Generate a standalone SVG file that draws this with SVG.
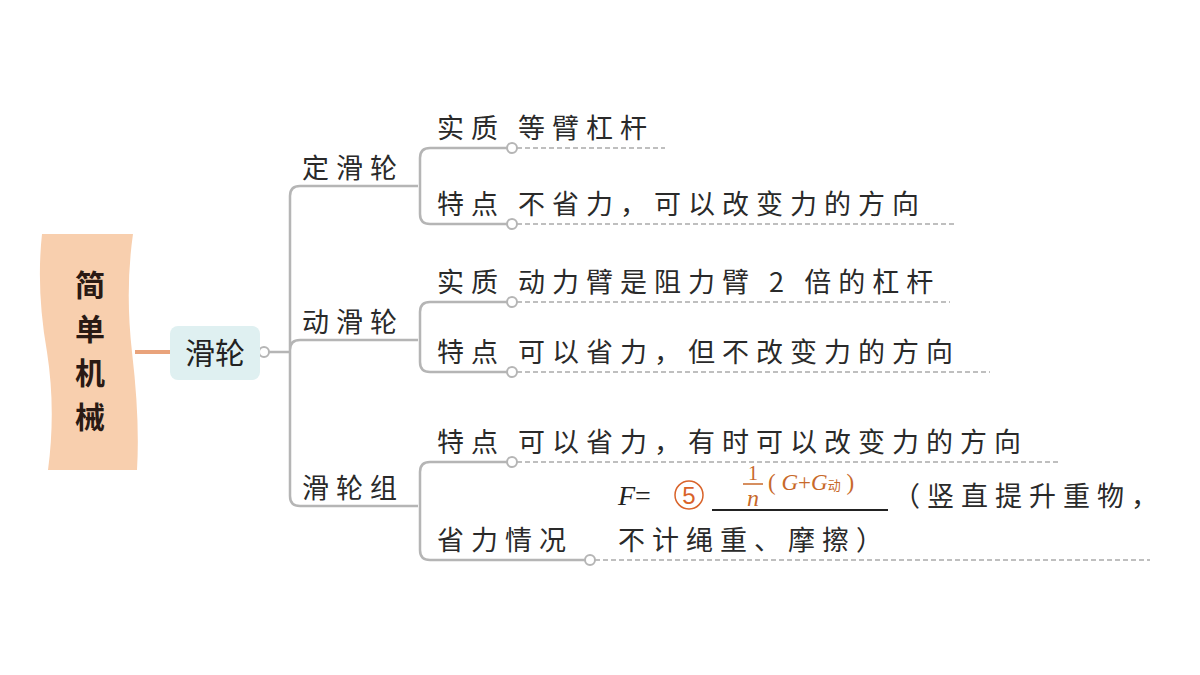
<svg xmlns="http://www.w3.org/2000/svg" width="1200" height="675" viewBox="0 0 1200 675">
<style>
.t{font-family:"Noto Sans CJK SC","Liberation Sans",sans-serif;font-size:27px;fill:#2a2a2a;letter-spacing:7px}
.ln{fill:none;stroke:#b5b5b5;stroke-width:2.5}
.ds{fill:none;stroke:#aaa;stroke-width:1.5;stroke-dasharray:5 3}
.c{fill:#fff;stroke:#b5b5b5;stroke-width:2}
.o{fill:#c8692a;font-family:"Liberation Serif",serif}
</style>
<rect width="1200" height="675" fill="#fff"/>
<g id="root">
<path d="M42,234 H133 Q125,290 132,352 Q140,420 137,470 H48 Q56,410 47,352 Q36,290 42,234 Z" fill="#f8cfae"/>
<g font-family="Noto Sans CJK SC,sans-serif" font-weight="bold" font-size="30" fill="#2a1a14" text-anchor="middle">
<text x="90" y="296">简</text><text x="90" y="340">单</text><text x="90" y="384">机</text><text x="90" y="428">械</text></g>
</g>
<g id="connectors">
<line x1="135" y1="352" x2="170" y2="352" stroke="#e9a37b" stroke-width="4"/>
<path class="ln" d="M269,352 H290 M290,196 Q290,186 300,186 H418 M290,196 V496 Q290,506 300,506 H418 M290,350 Q290,340 300,340 H418"/>
<path class="ln" d="M512,148 H430 Q420,148 420,158 V214 Q420,224 430,224 H507"/>
<path class="ln" d="M512,302 H430 Q420,302 420,312 V362 Q420,372 430,372 H507"/>
<path class="ln" d="M512,462 H430 Q420,462 420,472 V550 Q420,560 430,560 H585"/>
<path class="ds" d="M517,148 H665 M517,224 H955 M517,302 H950 M517,372 H990 M517,462 H1060 M595,560 H1150"/>
<circle class="c" cx="264" cy="352" r="5"/>
<circle class="c" cx="512" cy="148" r="5"/><circle class="c" cx="512" cy="224" r="5"/>
<circle class="c" cx="512" cy="302" r="5"/><circle class="c" cx="512" cy="372" r="5"/>
<circle class="c" cx="512" cy="462" r="5"/><circle class="c" cx="590" cy="560" r="5"/>
</g>
<g id="n-hualun"><rect x="170" y="326" width="90" height="54" rx="8" fill="#dff0f1"/>
<text x="215" y="364" text-anchor="middle" font-family="Noto Sans CJK SC,sans-serif" font-size="30" fill="#222">滑轮</text></g>
<g id="n-ding"><text class="t" x="302" y="178">定滑轮</text></g>
<g id="n-dong"><text class="t" x="302" y="332">动滑轮</text></g>
<g id="n-zu"><text class="t" x="302" y="498">滑轮组</text></g>
<g id="n-d1"><text class="t" x="437" y="138">实质 等臂杠杆</text></g>
<g id="n-d2"><text class="t" x="437" y="214">特点 不省力，可以改变力的方向</text></g>
<g id="n-m1"><text class="t" x="437" y="292">实质 动力臂是阻力臂 2 倍的杠杆</text></g>
<g id="n-m2"><text class="t" x="437" y="362">特点 可以省力，但不改变力的方向</text></g>
<g id="n-z1"><text class="t" x="437" y="452">特点 可以省力，有时可以改变力的方向</text></g>
<g id="n-z2"><text class="t" x="437" y="550">省力情况</text>
<text x="618" y="505" font-family="Liberation Serif,serif" font-size="28" fill="#222"><tspan font-style="italic">F</tspan>=</text>
<circle cx="689" cy="495" r="14" fill="none" stroke="#d9632a" stroke-width="1.5"/>
<text x="689" y="504" text-anchor="middle" font-family="Liberation Sans,sans-serif" font-size="24" fill="#d9632a">5</text>
<line x1="712" y1="510" x2="888" y2="510" stroke="#222" stroke-width="2"/>
<text class="o" x="753" y="480" text-anchor="middle" font-size="20">1</text>
<line x1="743" y1="484" x2="763" y2="484" stroke="#c8692a" stroke-width="1.5"/>
<text class="o" x="753" y="506" text-anchor="middle" font-size="24" font-style="italic">n</text>
<text class="o" x="768" y="490" font-size="23">( <tspan font-style="italic">G</tspan>+<tspan font-style="italic">G</tspan><tspan font-size="13" font-family="Noto Sans CJK SC,sans-serif">动</tspan> )</text>
<text class="t" x="893" y="506">（竖直提升重物，</text>
<text class="t" x="618" y="550">不计绳重、摩擦）</text></g>
</svg>
